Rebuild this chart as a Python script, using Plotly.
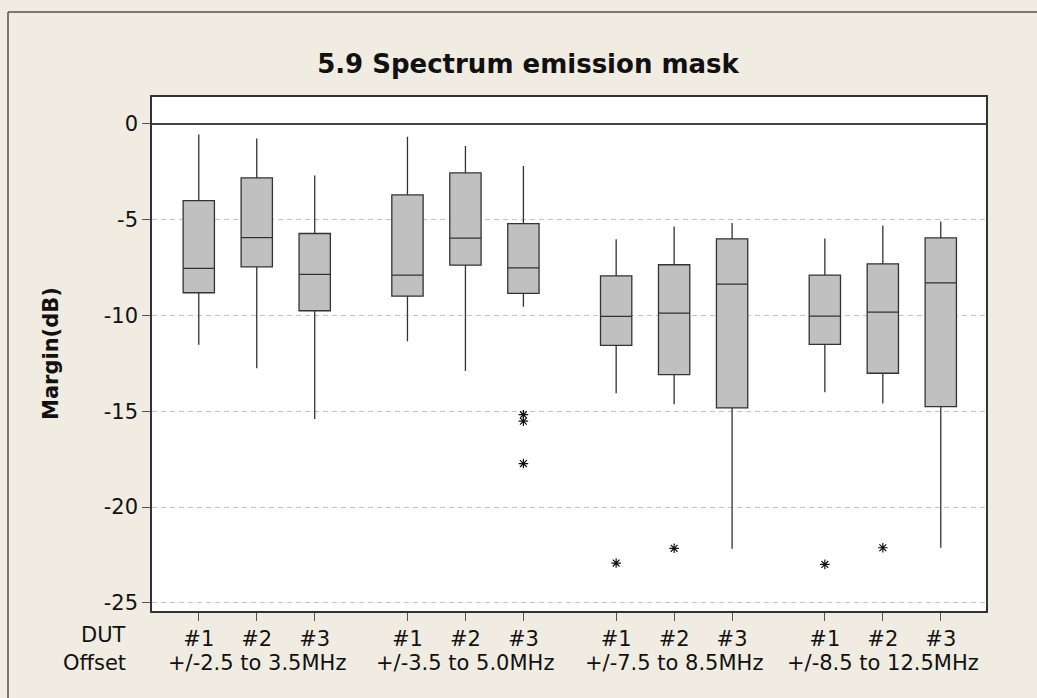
import plotly.graph_objects as go

# ---- data ----
offsets = ["+/-2.5 to 3.5MHz", "+/-3.5 to 5.0MHz", "+/-7.5 to 8.5MHz", "+/-8.5 to 12.5MHz"]
duts = ["#1", "#2", "#3"]

upper_whisker = [-0.57, -0.78, -2.71, -0.68, -1.17, -2.21, -6.03, -5.36, -5.18, -5.99, -5.31, -5.10]
q3_values     = [-4.01, -2.83, -5.73, -3.72, -2.57, -5.21, -7.94, -7.36, -6.01, -7.90, -7.31, -5.96]
median_values = [-7.55, -5.94, -7.86, -7.90, -5.97, -7.52, -10.05, -9.88, -8.37, -10.04, -9.83, -8.30]
q1_values     = [-8.82, -7.47, -9.76, -9.00, -7.38, -8.85, -11.56, -13.09, -14.83, -11.51, -13.02, -14.76]
lower_whisker = [-11.53, -12.76, -15.40, -11.35, -12.90, -9.55, -14.06, -14.64, -22.17, -14.01, -14.60, -22.12]

# outliers: (group index, dut index, value)
outlier_group = [1, 1, 1, 2, 2, 3, 3]
outlier_dut   = [2, 2, 2, 0, 1, 0, 1]
outlier_value = [-15.18, -15.52, -17.73, -22.92, -22.15, -22.99, -22.12]

y_ticks = [0, -5, -10, -15, -20, -25]

# ---- layout constants ----
GAP = 1.6          # distance between last box of a group and first box of next
BOX_W = 0.54
W, H = 1037, 698
L, R, T, B = 152, 51, 97, 87
FONT = "DejaVu Sans"


def pos(g, d):
    return g * (len(duts) - 1 + GAP) + d


fig = go.Figure()

k = 0
for g in range(len(offsets)):
    for d in range(len(duts)):
        fig.add_trace(go.Box(
            x=[pos(g, d)],
            q1=[q1_values[k]], median=[median_values[k]], q3=[q3_values[k]],
            lowerfence=[lower_whisker[k]], upperfence=[upper_whisker[k]],
            width=BOX_W, whiskerwidth=0,
            fillcolor="#C0C0C0",
            line=dict(color="#333333", width=1.3),
            boxpoints=False, hoverinfo="skip", showlegend=False,
        ))
        k += 1

fig.add_trace(go.Scatter(
    x=[pos(g, d) for g, d in zip(outlier_group, outlier_dut)],
    y=outlier_value,
    mode="markers",
    marker=dict(symbol="asterisk-open", size=8, color="#111111",
                line=dict(color="#111111", width=1.2)),
    showlegend=False, hoverinfo="skip",
))

tickvals = [pos(g, d) for g in range(len(offsets)) for d in range(len(duts))]
ticktext = [duts[d] for g in range(len(offsets)) for d in range(len(duts))]

plot_w = W - L - R
plot_h = H - T - B


def px_x(px):
    return (px - L) / plot_w


def px_y(py):
    return (H - B - py) / plot_h


annotations = [
    dict(text="DUT", x=px_x(128), y=px_y(635), xref="paper", yref="paper",
         xanchor="right", yanchor="middle", showarrow=False,
         font=dict(family=FONT, size=21, color="#111111")),
    dict(text="Offset", x=px_x(128), y=px_y(663), xref="paper", yref="paper",
         xanchor="right", yanchor="middle", showarrow=False,
         font=dict(family=FONT, size=21, color="#111111")),
    dict(text="Margin(dB)", x=px_x(51), y=0.5, xref="paper", yref="paper",
         xanchor="center", yanchor="middle", textangle=-90, showarrow=False,
         font=dict(family=FONT, size=21, color="#111111", weight="bold")),
]
for g, name in enumerate(offsets):
    annotations.append(dict(
        text=name, x=pos(g, 1), y=px_y(663), xref="x", yref="paper",
        xanchor="center", yanchor="middle", showarrow=False,
        font=dict(family=FONT, size=21, color="#111111")))

shapes = [
    dict(type="line", xref="paper", yref="paper",
         x0=px_x(8), x1=px_x(W), y0=px_y(12), y1=px_y(12),
         line=dict(color="#555555", width=1.5)),
    dict(type="line", xref="paper", yref="paper",
         x0=px_x(8), x1=px_x(8), y0=px_y(12), y1=px_y(H),
         line=dict(color="#555555", width=1.5)),
]

fig.update_layout(
    width=W, height=H,
    margin=dict(l=L, r=R, t=T, b=B, pad=0),
    paper_bgcolor="#F0ECE2",
    plot_bgcolor="#FFFFFF",
    title=dict(text="5.9 Spectrum emission mask", x=528 / W, xanchor="center",
               y=1 - 64 / H, yanchor="middle", xref="container", yref="container",
               font=dict(family=FONT, size=26, color="#111111", weight="bold")),
    font=dict(family=FONT, size=21, color="#111111"),
    annotations=annotations,
    shapes=shapes,
)

fig.update_xaxes(
    range=[-0.807, pos(len(offsets) - 1, len(duts) - 1) + 0.78],
    tickvals=tickvals, ticktext=ticktext,
    showgrid=False, zeroline=False,
    ticks="outside", ticklen=8, tickcolor="#555555", tickwidth=1.2,
    showline=True, linecolor="#333333", linewidth=1.5, mirror=True,
    tickfont=dict(family=FONT, size=21, color="#111111"),
)
fig.update_yaxes(
    range=[-25.42, 1.39],
    tickvals=y_ticks, ticktext=[str(v) for v in y_ticks],
    showgrid=True, gridcolor="#C4C4C4", gridwidth=1, griddash="5px,4px",
    zeroline=True, zerolinecolor="#444444", zerolinewidth=1.5,
    ticks="outside", ticklen=8, tickcolor="#555555", tickwidth=1.2,
    showline=True, linecolor="#333333", linewidth=1.5, mirror=True,
    tickfont=dict(family=FONT, size=21, color="#111111"),
)

fig.write_html(
    "out.html",
    config={"displayModeBar": False},
    post_script="document.body.style.margin='0';document.body.style.overflow='hidden';",
)
